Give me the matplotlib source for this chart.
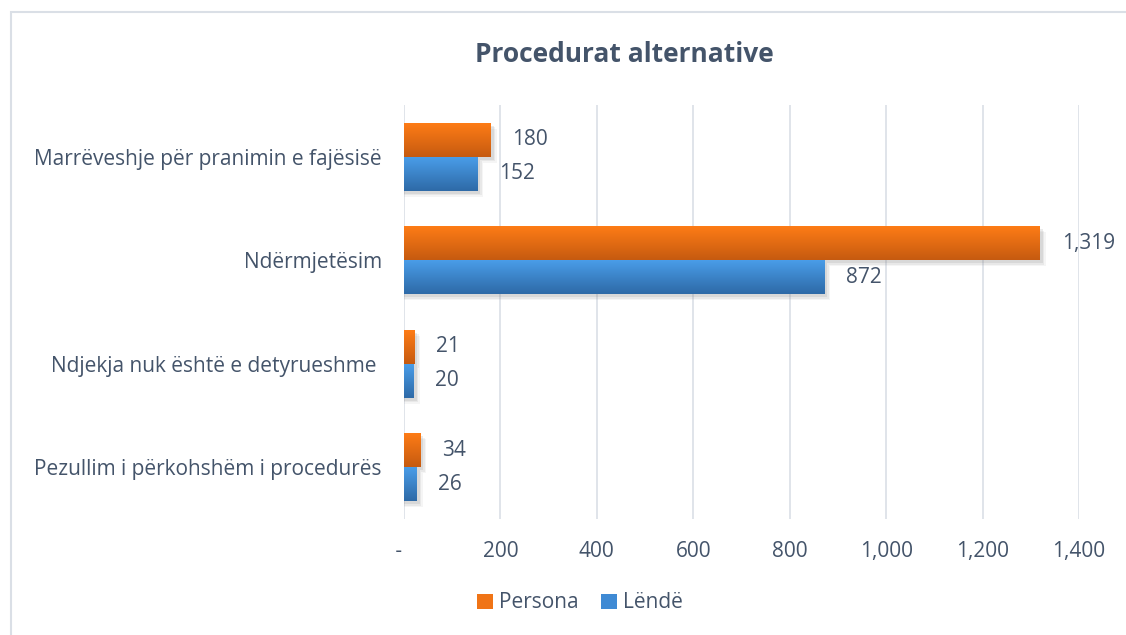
import numpy as np
import matplotlib.pyplot as plt
from matplotlib.patches import Rectangle
from matplotlib.colors import LinearSegmentedColormap
from matplotlib.ticker import FuncFormatter

categories = ["Marrëveshje për pranimin e fajësisë",
              "Ndërmjetësim",
              "Ndjekja nuk është e detyrueshme ",
              "Pezullim i përkohshëm i procedurës"]
persona = [180, 1319, 21, 34]
lende = [152, 872, 20, 26]
xticks = [0, 200, 400, 600, 800, 1000, 1200, 1400]

txt = "#44546A"
fs = 15
plt.rcParams['font.family'] = ['Open Sans', 'DejaVu Sans']

fig = plt.figure(figsize=(11.26, 6.35), dpi=100)
ax = fig.add_axes([404 / 1126, 1 - 519 / 635, (1079 - 404) / 1126, (519 - 105) / 635])

# light frame around chart area (left/top visible)
fig.patches.append(Rectangle((11 / 1126, -0.01), 1.2, (635 - 12) / 635 + 0.01,
                             transform=fig.transFigure, fill=False,
                             edgecolor="#DADFE6", linewidth=1.5))

y = np.arange(len(categories))
h = 0.33

orange = LinearSegmentedColormap.from_list("o", ["#C65A10", "#FF7D16"])
blue = LinearSegmentedColormap.from_list("b", ["#2E6AA7", "#4A9EEA"])
grad = np.linspace(0, 1, 64).reshape(-1, 1)


def gbar(yc, w, cmap):
    top, bot = yc - h / 2, yc + h / 2
    # soft shadow
    for k, a in [(6, 0.07), (4.5, 0.1), (3, 0.15)]:
        dx = k * 1400 / 675
        dy = k * 4 / 414
        ax.add_patch(Rectangle((0, top + dy), w + dx, h, facecolor="#7F7F7F",
                               edgecolor="none", alpha=a, zorder=2))
    r = Rectangle((0, top), w, h, facecolor="none", edgecolor="none", zorder=3)
    ax.add_patch(r)
    im = ax.imshow(grad, cmap=cmap, aspect="auto", extent=(0, w, bot, top),
                   origin="lower", zorder=3)
    im.set_clip_path(r)


for i in range(len(categories)):
    gbar(y[i] - h / 2, persona[i], orange)
    gbar(y[i] + h / 2, lende[i], blue)
    ax.text(persona[i] + 45, y[i] - h / 2, f"{persona[i]:,}", va="center",
            ha="left", fontsize=fs, color=txt)
    ax.text(lende[i] + 45, y[i] + h / 2, f"{lende[i]:,}", va="center",
            ha="left", fontsize=fs, color=txt)

ax.set_xlim(0, 1400)
ax.set_ylim(3.5, -0.5)
ax.set_xticks(xticks)
ax.xaxis.set_major_formatter(FuncFormatter(lambda v, p: " -   " if v == 0 else f"{int(v):,}"))
ax.set_yticks(y)
ax.set_yticklabels(categories)
ax.grid(axis="x", color="#DDE2E8", linewidth=1.3, zorder=0)
ax.set_axisbelow(True)
for s in ax.spines.values():
    s.set_visible(False)
ax.tick_params(axis="both", length=0, labelsize=fs, labelcolor=txt)
ax.tick_params(axis="x", pad=16)
ax.tick_params(axis="y", pad=16)

fig.text(624 / 1126, 1 - 55 / 635, "Procedurat alternative", ha="center",
         va="center", fontsize=19, fontweight="bold", color=txt)

handles = [Rectangle((0, 0), 1, 1, facecolor="#F07416"),
           Rectangle((0, 0), 1, 1, facecolor="#3F8AD4")]
fig.legend(handles, ["Persona", "Lëndë"], loc="center",
           bbox_to_anchor=(580 / 1126, 1 - 603 / 635), ncol=2, frameon=False,
           fontsize=fs, labelcolor=txt, handlelength=0.75, handleheight=0.75,
           handletextpad=0.3, columnspacing=1.1)

fig.savefig("out.png", dpi=100)
